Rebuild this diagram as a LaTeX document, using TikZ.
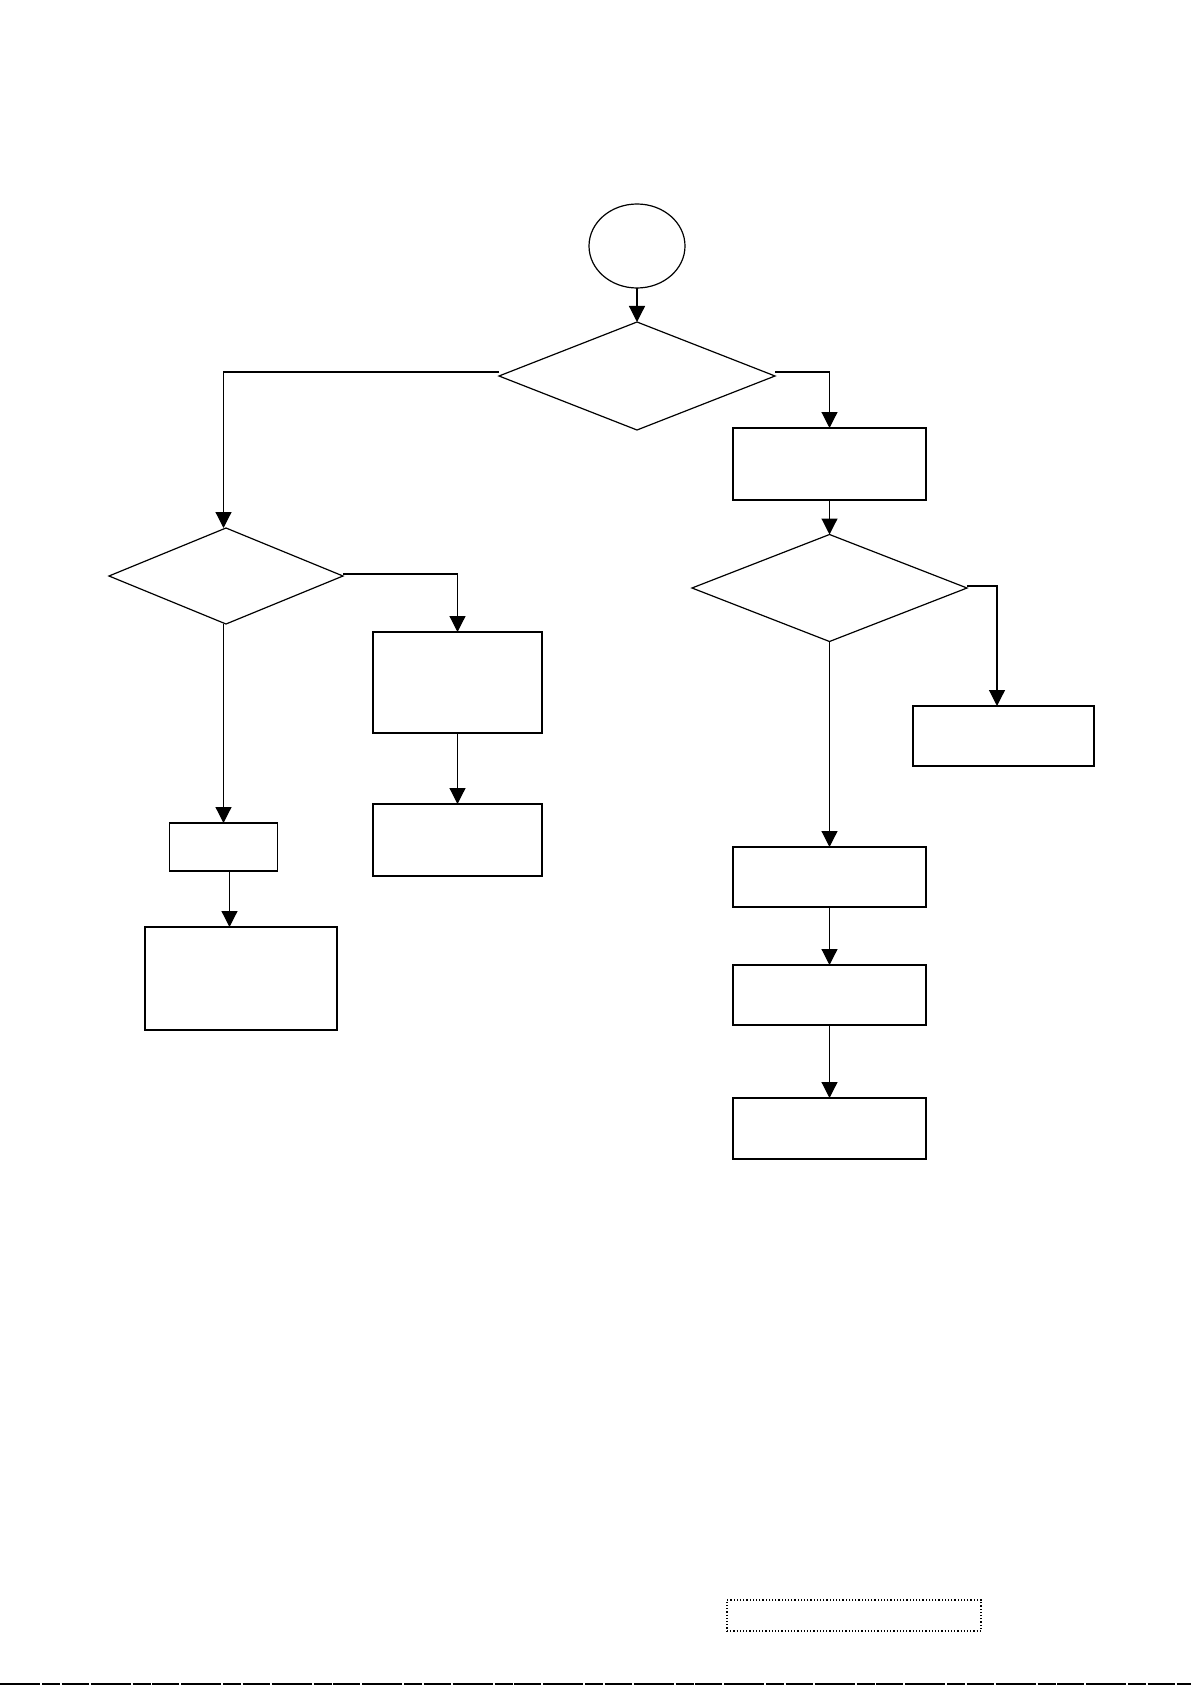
\documentclass[tikz,border=0pt]{standalone}
\usetikzlibrary{shapes.geometric,arrows.meta}
\begin{document}
\begin{tikzpicture}[x=1pt,y=-1pt,
  base/.style={draw=black,line width=1.2pt,inner sep=0pt,outer sep=0pt},
  thickbox/.style={draw=black,line width=2pt,rectangle,inner sep=0pt,outer sep=0pt},
  decision/.style={base,diamond},
  flow/.style={line width=1.2pt,-{Triangle[length=16pt,width=16pt]}}]
\useasboundingbox[fill=white] (0,0) rectangle (1191,1685);
% start
\node[base,ellipse,minimum width=96pt,minimum height=84pt] (start) at (637,246) {};
% decisions
\node[decision,minimum width=276pt,minimum height=108pt] (d1) at (637,376) {};
\node[decision,minimum width=234pt,minimum height=96pt] (d2) at (226,576) {};
\node[decision,minimum width=275pt,minimum height=107pt] (d3) at (829.5,588) {};
% right branch boxes
\node[base,rectangle,minimum width=193pt,minimum height=72pt] (e) at (829.5,464) {};
\node[thickbox,minimum width=181pt,minimum height=60pt] (f) at (1003.5,736) {};
\node[base,rectangle,minimum width=193pt,minimum height=60pt] (g) at (829.5,877) {};
\node[base,rectangle,minimum width=193pt,minimum height=60pt] (h) at (829.5,995) {};
\node[base,rectangle,minimum width=193pt,minimum height=61pt] (i) at (829.5,1128.5) {};
\draw[line width=2pt] (i.south west) -- (i.south east);
% left branch boxes
\node[base,rectangle,minimum width=169pt,minimum height=101pt] (a) at (457.5,682.5) {};
\node[thickbox,minimum width=169pt,minimum height=72pt] (b) at (457.5,840) {};
\node[base,rectangle,minimum width=108pt,minimum height=48pt] (c) at (223.5,847) {};
\node[thickbox,minimum width=192pt,minimum height=103pt] (d) at (241,978.5) {};
% dotted footer box
\node[draw=black,line width=1.2pt,dotted,rectangle,inner sep=0pt,minimum width=254pt,minimum height=31pt] (foot) at (854,1615.5) {};
% connectors
\draw[flow] (start.south) -- (d1.north);
\coordinate (d2in) at (c.north |- d2.north);
\draw[flow] ([yshift=4pt]d1.west) -| (d2in);
\draw[flow] ([yshift=4pt]d1.east) -| (e.north);
\draw[flow] (e.south) -- (d3.north);
\coordinate (fin) at ([xshift=-6.5pt]f.north);
\draw[flow] ([yshift=2pt]d3.east) -| (fin);
\draw[flow] (d3.south) -- (g.north);
\draw[flow] (g.south) -- (h.north);
\draw[flow] (h.south) -- (i.north);
\draw[flow] ([yshift=2pt]d2.east) -| (a.north);
\draw[flow] (a.south) -- (b.north);
\coordinate (d2out) at (c.north |- d2.south);
\draw[flow] (d2out) -- (c.north);
\coordinate (cout) at ([xshift=6pt]c.south);
\draw[flow] (cout) -- (cout |- d.north);
% bottom rule
\coordinate (bl) at (0,1684);
\coordinate (br) at (1191,1684);
\draw[line width=2pt,dash pattern=on 40pt off 2pt on 18pt off 1.5pt on 27pt off 2pt] (bl) -- (br);
\end{tikzpicture}
\end{document}
